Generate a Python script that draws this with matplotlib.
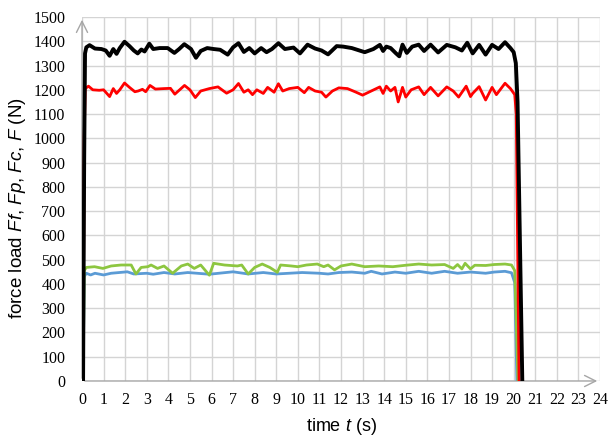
import matplotlib
matplotlib.use("Agg")
import matplotlib.pyplot as plt

# ---- data ----
t_black = [0.05, 0.1, 0.14, 0.2, 0.35, 0.6, 0.9, 1.1, 1.28, 1.45, 1.6, 1.75, 1.97, 2.2, 2.4, 2.58,
           2.75, 2.9, 3.12, 3.3, 3.6, 3.97, 4.28, 4.5, 4.74, 5.05, 5.28, 5.5, 5.8, 6.1, 6.4, 6.75,
           7.0, 7.25, 7.5, 7.75, 8.0, 8.3, 8.55, 8.8, 9.1, 9.4, 9.8, 10.1, 10.45, 10.8, 11.1, 11.4,
           11.8, 12.1, 12.5, 13.1, 13.5, 13.8, 13.95, 14.1, 14.3, 14.55, 14.7, 14.85, 15.05, 15.3,
           15.6, 15.85, 16.15, 16.5, 16.9, 17.3, 17.6, 17.85, 18.1, 18.4, 18.7, 19.0, 19.3, 19.6,
           19.85, 20.0, 20.1, 20.18, 20.4]
F_black = [0, 900, 1350, 1375, 1384, 1370, 1368, 1362, 1340, 1368, 1348, 1372, 1398, 1380, 1362, 1350,
           1366, 1358, 1390, 1368, 1372, 1372, 1352, 1368, 1388, 1368, 1332, 1360, 1372, 1368, 1365, 1345,
           1375, 1392, 1356, 1372, 1350, 1372, 1355, 1368, 1392, 1368, 1374, 1350, 1386, 1370, 1362, 1346,
           1380, 1378, 1372, 1355, 1368, 1385, 1360, 1378, 1372, 1350, 1338, 1386, 1352, 1378,
           1386, 1360, 1386, 1354, 1385, 1375, 1362, 1394, 1350, 1385, 1345, 1385, 1368, 1396,
           1372, 1355, 1310, 1150, 0]

t_red = [0.05, 0.1, 0.15, 0.3, 0.5, 0.8, 1.0, 1.28, 1.45, 1.6, 1.75, 1.97, 2.2, 2.45, 2.6, 2.8,
         2.95, 3.15, 3.4, 3.8, 4.1, 4.3, 4.5, 4.75, 5.0, 5.25, 5.5, 5.9, 6.3, 6.7, 7.0, 7.25,
         7.5, 7.7, 7.9, 8.1, 8.4, 8.6, 8.9, 9.1, 9.3, 9.6, 10.0, 10.3, 10.5, 10.8, 11.1, 11.3,
         11.6, 11.9, 12.3, 12.7, 13.0, 13.4, 13.8, 13.95, 14.1, 14.3, 14.5, 14.65, 14.85, 15.0,
         15.25, 15.6, 15.85, 16.15, 16.5, 16.9, 17.2, 17.45, 17.8, 18.0, 18.1, 18.4, 18.7, 19.0,
         19.2, 19.6, 19.85, 20.05, 20.12, 20.25]
F_red = [0, 1000, 1205, 1215, 1200, 1198, 1200, 1172, 1205, 1185, 1200, 1228, 1210, 1192, 1195, 1202,
         1192, 1218, 1203, 1205, 1206, 1182, 1198, 1218, 1200, 1168, 1195, 1205, 1212, 1186, 1200, 1226,
         1190, 1200, 1180, 1200, 1185, 1210, 1190, 1225, 1195, 1205, 1210, 1188, 1210, 1195, 1190, 1170,
         1195, 1208, 1205, 1190, 1178, 1195, 1212, 1185, 1215, 1195, 1210, 1150, 1210, 1170,
         1200, 1212, 1180, 1210, 1175, 1212, 1195, 1170, 1215, 1172, 1185, 1213, 1158, 1210,
         1180, 1227, 1205, 1180, 1100, 0]

t_green = [0.05, 0.1, 0.2, 0.58, 0.97, 1.35, 1.81, 2.28, 2.5, 2.74, 3.05, 3.2, 3.5, 3.8, 4.2, 4.6,
           4.9, 5.2, 5.5, 5.9, 6.1, 6.6, 7.2, 7.4, 7.7, 8.0, 8.35, 8.7, 9.05, 9.2, 9.7, 10.0,
           10.4, 10.9, 11.2, 11.4, 11.7, 12.0, 12.5, 13.1, 13.75, 14.4, 15.0, 15.6, 16.2, 16.8,
           17.2, 17.4, 17.6, 17.75, 18.0, 18.2, 18.7, 19.1, 19.6, 19.9, 20.05, 20.2]
F_green = [0, 455, 468, 471, 464, 474, 478, 478, 441, 468, 471, 478, 464, 474, 444, 474,
           482, 464, 478, 436, 485, 478, 474, 478, 441, 468, 482, 468, 448, 478, 474, 471,
           478, 482, 471, 478, 458, 474, 482, 471, 474, 471, 477, 482, 478, 480,
           464, 480, 462, 485, 462, 477, 476, 480, 482, 478, 455, 0]

t_blue = [0.05, 0.1, 0.2, 0.4, 0.6, 1.0, 1.35, 2.1, 2.4, 3.0, 3.3, 3.8, 4.3, 4.9, 5.9, 7.0,
          7.7, 8.4, 9.0, 10.2, 11.0, 11.4, 11.9, 12.5, 13.1, 13.4, 13.9, 14.5, 15.0, 15.6,
          16.2, 16.8, 17.4, 18.0, 18.7, 19.1, 19.6, 19.9, 20.05, 20.15]
F_blue = [0, 430, 444, 437, 444, 437, 444, 450, 441, 444, 440, 447, 441, 447, 440, 450,
          441, 447, 441, 447, 444, 441, 447, 449, 444, 452, 441, 449, 444, 452,
          444, 452, 444, 449, 444, 449, 452, 446, 405, 0]

x_ticks = list(range(0, 25))
y_ticks = list(range(0, 1501, 100))

# ---- style ----
plt.rcParams['mathtext.fontset'] = 'custom'
plt.rcParams['mathtext.rm'] = 'Liberation Sans'
plt.rcParams['mathtext.it'] = 'Liberation Sans:italic'

fig = plt.figure(figsize=(6.08, 4.37), dpi=100)
ax = fig.add_axes([82/608, 1 - 381/437, 518/608, 364/437])

ax.set_xlim(0, 24)
ax.set_ylim(0, 1500)
ax.set_xticks(x_ticks)
ax.set_yticks(y_ticks)
ax.grid(True, color='#d4d4d4', linewidth=1.0)
ax.set_axisbelow(True)
for s in ax.spines.values():
    s.set_visible(False)
ax.tick_params(length=0, labelsize=11.5)
ax.tick_params(axis='y', pad=12)
ax.tick_params(axis='x', pad=8)
for lab in ax.get_xticklabels() + ax.get_yticklabels():
    lab.set_fontfamily('Liberation Serif')

# axis arrows
ax.annotate('', xy=(0, 1.0), xytext=(0, 0), xycoords='axes fraction',
            arrowprops=dict(arrowstyle='->,head_length=0.8,head_width=0.4', color='#a6a6a6', lw=1.0),
            annotation_clip=False)
ax.annotate('', xy=(1.0, 0), xytext=(0, 0), xycoords='axes fraction',
            arrowprops=dict(arrowstyle='->,head_length=0.8,head_width=0.4', color='#a6a6a6', lw=1.0),
            annotation_clip=False)

ax.plot(t_blue, F_blue, color='#5b9bd5', lw=2.0, solid_joinstyle='round', zorder=3)
ax.plot(t_green, F_green, color='#8dc640', lw=2.0, solid_joinstyle='round', zorder=3)
ax.plot(t_red, F_red, color='#ff0000', lw=2.0, solid_joinstyle='round', zorder=4)
ax.plot(t_black, F_black, color='#000000', lw=2.8, solid_joinstyle='round', zorder=5)

ax.set_xlabel(r'time $\mathit{t}$ (s)', fontsize=13, family='Liberation Sans', labelpad=6)
ax.set_ylabel(r'force load $\mathit{Ff}$, $\mathit{Fp}$, $\mathit{Fc}$, $\mathit{F}$ (N)',
              fontsize=13.5, family='Liberation Sans')
ax.yaxis.set_label_coords(-0.105, 0.475)

fig.savefig('out.png', dpi=100)
